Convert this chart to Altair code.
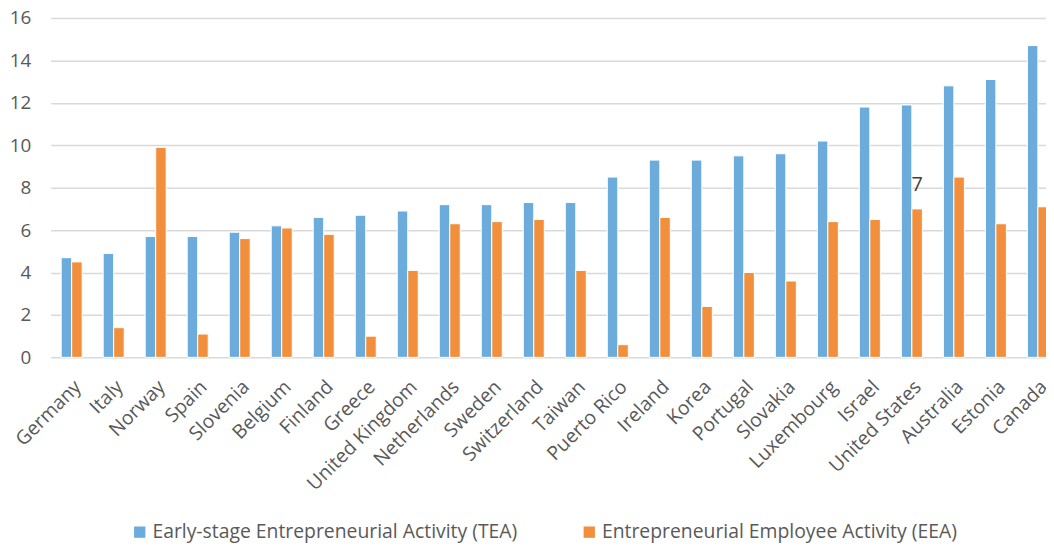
import altair as alt
import pandas as pd

countries = ["Germany", "Italy", "Norway", "Spain", "Slovenia", "Belgium", "Finland", "Greece",
             "United Kingdom", "Netherlands", "Sweden", "Switzerland", "Taiwan", "Puerto Rico",
             "Ireland", "Korea", "Portugal", "Slovakia", "Luxembourg", "Israel", "United States",
             "Australia", "Estonia", "Canada"]
tea = [4.7, 4.9, 5.7, 5.7, 5.9, 6.2, 6.6, 6.7, 6.9, 7.2, 7.2, 7.3, 7.3, 8.5,
       9.3, 9.3, 9.5, 9.6, 10.2, 11.8, 11.9, 12.8, 13.1, 14.7]
eea = [4.5, 1.4, 9.9, 1.1, 5.6, 6.1, 5.8, 1.0, 4.1, 6.3, 6.4, 6.5, 4.1, 0.6,
       6.6, 2.4, 4.0, 3.6, 6.4, 6.5, 7.0, 8.5, 6.3, 7.1]
series = ["Early-stage Entrepreneurial Activity (TEA)", "Entrepreneurial Employee Activity (EEA)"]
colors = ["#6CACDC", "#F28F3C"]
y_ticks = [0, 2, 4, 6, 8, 10, 12, 14, 16]
label_country = ["United States"]
label_value = [7]

rows = []
for c, t, e in zip(countries, tea, eea):
    rows.append({"country": c, "series": series[0], "value": t})
    rows.append({"country": c, "series": series[1], "value": e})
df = pd.DataFrame(rows)
lab = pd.DataFrame({"country": label_country, "series": [series[1]], "value": label_value})

font = "Open Sans"
gray = "#595959"

x = alt.X("country:N", sort=countries, title=None,
          scale=alt.Scale(paddingInner=0.5, paddingOuter=0.25),
          axis=alt.Axis(labelAngle=-45, labelFontSize=19.5, labelColor=gray, labelFont=font,
                        ticks=False, domain=False, labelPadding=20))
y = alt.Y("value:Q", title=None,
          scale=alt.Scale(domain=[0, 16], nice=False),
          axis=alt.Axis(values=y_ticks, labelFontSize=19, labelColor=gray, labelFont=font,
                        ticks=False, domain=False, gridColor="#D9D9D9", gridWidth=1.5,
                        labelPadding=20))

bars = alt.Chart(df).mark_bar(stroke="white", strokeWidth=1).encode(
    x=x,
    xOffset=alt.XOffset("series:N", sort=series),
    y=y,
    color=alt.Color("series:N", sort=series,
                    scale=alt.Scale(domain=series, range=colors),
                    legend=alt.Legend(title=None, orient="none", direction="horizontal",
                                      legendX=80, legendY=508, symbolType="square",
                                      symbolSize=130, symbolStrokeWidth=0,
                                      labelFontSize=19.5, labelColor=gray, labelFont=font,
                                      labelOffset=3, columnPadding=62, labelLimit=600)),
)

text = alt.Chart(lab).mark_text(dy=-24, fontSize=20, color="#404040", font=font).encode(
    x=alt.X("country:N", sort=countries),
    xOffset=alt.XOffset("series:N", sort=series),
    y="value:Q",
    text="value:Q",
)

chart = (bars + text).properties(
    width=1016, height=342,
    autosize=alt.AutoSizeParams(type="none"),
    padding={"left": 43, "top": 8, "right": -13, "bottom": 186},
).configure_view(stroke=None)

chart.save("out.html", embed_options={"renderer": "svg", "actions": False})
